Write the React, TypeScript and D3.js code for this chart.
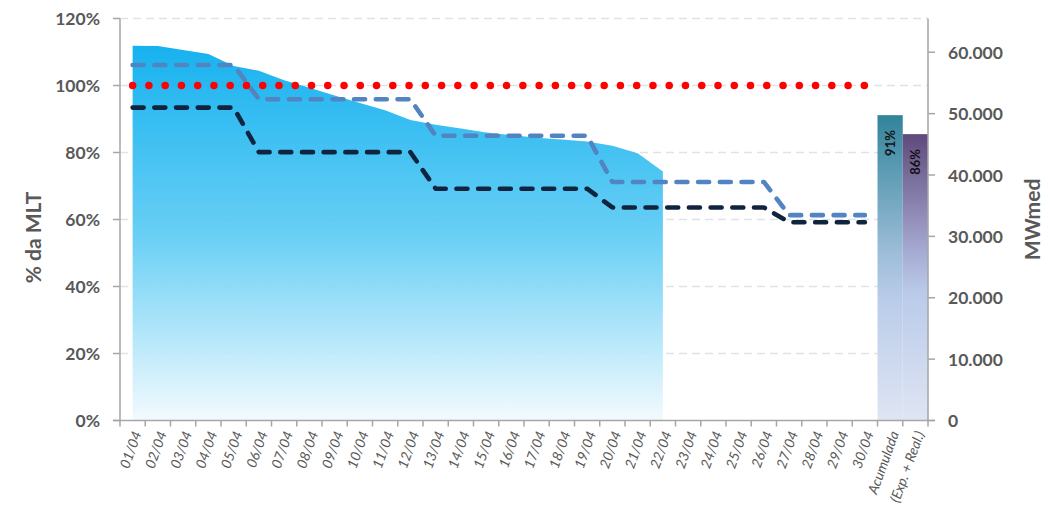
import * as d3 from "d3";

// categorias do eixo x
const categories = [
  "01/04", "02/04", "03/04", "04/04", "05/04", "06/04", "07/04", "08/04", "09/04", "10/04",
  "11/04", "12/04", "13/04", "14/04", "15/04", "16/04", "17/04", "18/04", "19/04", "20/04",
  "21/04", "22/04", "23/04", "24/04", "25/04", "26/04", "27/04", "28/04", "29/04", "30/04",
  "Acumulada", "(Exp. + Real.)",
];
const days = categories.slice(0, 30);

// % MLT verificada (area)
const realized = [
  1.119, 1.118, 1.106, 1.094, 1.058, 1.044, 1.016, 0.993, 0.970, 0.948, 0.926,
  0.897, 0.883, 0.872, 0.860, 0.852, 0.844, 0.839, 0.833, 0.820, 0.798, 0.743,
];
// previsões semanais (tracejadas)
const forecastA = [
  1.061, 1.061, 1.061, 1.061, 1.061, 0.959, 0.959, 0.959, 0.959, 0.959,
  0.959, 0.959, 0.850, 0.850, 0.850, 0.850, 0.850, 0.850, 0.850, 0.712,
  0.712, 0.712, 0.712, 0.712, 0.712, 0.712, 0.613, 0.613, 0.613, 0.613,
];
const forecastB = [
  0.934, 0.934, 0.934, 0.934, 0.934, 0.801, 0.801, 0.801, 0.801, 0.801,
  0.801, 0.801, 0.692, 0.692, 0.692, 0.692, 0.692, 0.692, 0.692, 0.636,
  0.636, 0.636, 0.636, 0.636, 0.636, 0.636, 0.592, 0.592, 0.592, 0.592,
];
const reference = [
  1, 1, 1, 1, 1, 1, 1, 1, 1, 1, 1, 1, 1, 1, 1, 1, 1, 1, 1, 1,
  1, 1, 1, 1, 1, 1, 1, 1, 1, 1,
];
// barras acumuladas (MWmed)
const barCats = ["Acumulada", "(Exp. + Real.)"];
const barValues = [49750, 46660];
const barLabels = ["91%", "86%"];

const leftTicks = [0, 0.2, 0.4, 0.6, 0.8, 1, 1.2];
const rightTicks = [0, 10000, 20000, 30000, 40000, 50000, 60000];

const W = 1050;
const H = 518;
const left = 120;
const right = 928;
const top = 18.5;
const bottom = 420.5;
const grey = "#595959";
const axisCol = "#a6a6a6";
const font = "Lato, 'Open Sans', sans-serif";

export default function App() {
  const x = d3.scaleBand().domain(categories).range([left, right]).padding(0);
  const bw = x.bandwidth();
  const cx = (c: string) => (x(c) as number) + bw / 2;
  const yL = d3.scaleLinear().domain([0, 1.2]).range([bottom, top]);
  const yR = d3.scaleLinear().domain([0, 65500]).range([bottom, top]);

  const area = d3
    .area<number>()
    .x((_, i) => cx(days[i]))
    .y0(yL(0))
    .y1((d) => yL(d));
  const line = d3
    .line<number>()
    .x((_, i) => cx(days[i]))
    .y((d) => yL(d));

  const fmtPct = (v: number) => `${Math.round(v * 100)}%`;
  const fmtMW = (v: number) => (v === 0 ? "0" : d3.format(",")(v).replace(/,/g, "."));

  return (
    <div style={{ position: "absolute", left: 0, top: 0 }}>
      <svg width={W} height={H} style={{ display: "block", fontFamily: font }}>
        <defs>
          <linearGradient id="areaGrad" gradientUnits="userSpaceOnUse" x1="0" x2="0" y1={yL(1.12)} y2={bottom}>
            <stop offset="0" stopColor="#05acee" />
            <stop offset="0.5" stopColor="#5ccbf4" />
            <stop offset="1" stopColor="#f2fafe" />
          </linearGradient>
          <linearGradient id="bar0" gradientUnits="userSpaceOnUse" x1="0" x2="0" y1={yR(barValues[0])} y2={bottom}>
            <stop offset="0" stopColor="#31849b" />
            <stop offset="0.45" stopColor="#9dbdd8" />
            <stop offset="0.6" stopColor="#b9cce9" />
            <stop offset="1" stopColor="#dfe5f3" />
          </linearGradient>
          <linearGradient id="bar1" gradientUnits="userSpaceOnUse" x1="0" x2="0" y1={yR(barValues[1])} y2={bottom}>
            <stop offset="0" stopColor="#5f4a7c" />
            <stop offset="0.4" stopColor="#a5a8d0" />
            <stop offset="0.55" stopColor="#b9cae9" />
            <stop offset="1" stopColor="#dfe5f3" />
          </linearGradient>
        </defs>

        {/* grade */}
        {leftTicks.filter((t) => t > 0).map((t) => (
          <line key={t} x1={left} x2={right} y1={yL(t)} y2={yL(t)} stroke="#dbe4e8" strokeWidth={1.5} strokeDasharray="8 5" />
        ))}

        {/* area realizada */}
        <path d={area(realized) || ""} fill="url(#areaGrad)" fillOpacity={0.93} />

        {/* barras */}
        {barCats.map((c, i) => (
          <rect key={c} x={x(c)} y={yR(barValues[i])} width={bw} height={bottom - yR(barValues[i])} fill={`url(#bar${i})`} />
        ))}
        {barCats.map((c, i) => (
          <text
            key={c}
            transform={`translate(${cx(c)},${yR(barValues[i]) + 15}) rotate(-90)`}
            textAnchor="end"
            dominantBaseline="central"
            fontSize={13}
            fontWeight="bold"
            fill="#111"
          >
            {barLabels[i]}
          </text>
        ))}

        {/* linhas */}
        <path d={line(forecastA) || ""} fill="none" stroke="#5284c2" strokeWidth={4.6} strokeLinecap="round" strokeLinejoin="round" strokeDasharray="11 10.7" />
        <path d={line(forecastB) || ""} fill="none" stroke="#10243f" strokeWidth={4.6} strokeLinecap="round" strokeLinejoin="round" strokeDasharray="11 10.7" />
        <path d={line(reference) || ""} fill="none" stroke="#ff0000" strokeWidth={7.5} strokeLinecap="round" strokeDasharray="0.01 16.25" />

        {/* eixos */}
        <line x1={left} x2={left} y1={top} y2={bottom} stroke={axisCol} strokeWidth={1.5} />
        <line x1={right} x2={right} y1={top} y2={bottom} stroke={axisCol} strokeWidth={1.5} />
        <line x1={left - 7} x2={right + 7} y1={bottom} y2={bottom} stroke={axisCol} strokeWidth={1.5} />
        {leftTicks.map((t) => (
          <g key={t}>
            <line x1={left - 7} x2={left} y1={yL(t)} y2={yL(t)} stroke={axisCol} strokeWidth={1.5} />
            <text x={left - 20} y={yL(t)} textAnchor="end" dominantBaseline="central" fontSize={17.5} fontWeight="bold" fill={grey}>
              {fmtPct(t)}
            </text>
          </g>
        ))}
        {rightTicks.map((t) => (
          <g key={t}>
            <line x1={right} x2={right + 7} y1={yR(t)} y2={yR(t)} stroke={axisCol} strokeWidth={1.5} />
            <text x={right + 20} y={yR(t)} textAnchor="start" dominantBaseline="central" fontSize={17.5} fontWeight="bold" fill={grey}>
              {fmtMW(t)}
            </text>
          </g>
        ))}
        {categories.concat(["__end"]).map((c, i) => {
          const xx = i < categories.length ? (x(c) as number) : right;
          return <line key={c} x1={xx} x2={xx} y1={bottom} y2={bottom + 6} stroke={axisCol} strokeWidth={1.5} />;
        })}
        {categories.map((c) => (
          <text
            key={c}
            transform={`translate(${cx(c) + 4},${bottom + 11}) rotate(-70)`}
            textAnchor="end"
            dominantBaseline="central"
            fontSize={14}
            fontStyle="italic"
            fill={grey}
          >
            {c}
          </text>
        ))}

        {/* titulos dos eixos */}
        <text transform={`translate(32,${(top + bottom) / 2 + 18}) rotate(-90)`} textAnchor="middle" dominantBaseline="central" fontSize={21} fontWeight="bold" fill={grey}>
          % da MLT
        </text>
        <text transform={`translate(1031,${(top + bottom) / 2}) rotate(-90)`} textAnchor="middle" dominantBaseline="central" fontSize={21} fontWeight="bold" fill={grey}>
          MWmed
        </text>
      </svg>
    </div>
  );
}
